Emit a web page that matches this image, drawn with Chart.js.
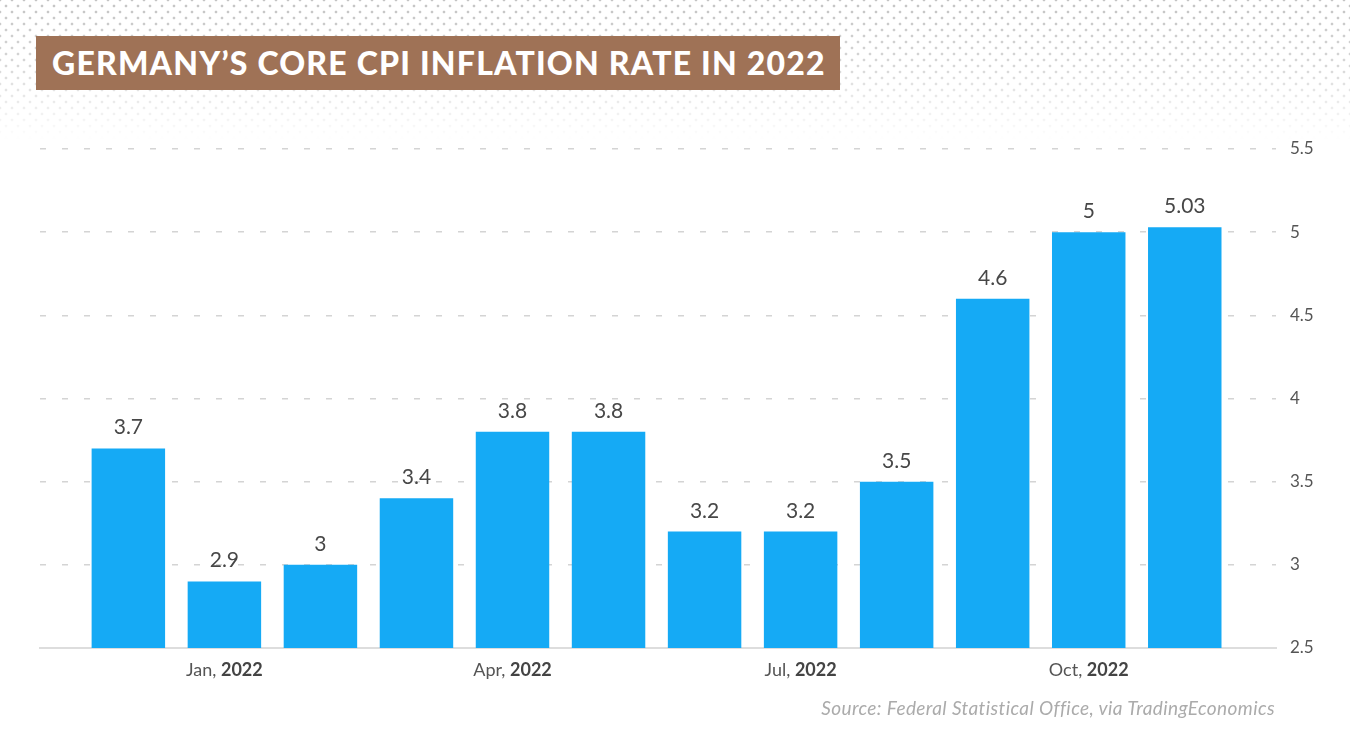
<!DOCTYPE html>
<html><head><meta charset="utf-8">
<script src="https://cdn.jsdelivr.net/npm/chart.js@4.4.0/dist/chart.umd.min.js"></script>
<style>
html,body{margin:0;padding:0;background:#fff;}
body{width:1350px;height:747px;position:relative;overflow:hidden;font-family:Lato,sans-serif;}
#dots{position:absolute;left:0;top:0;width:1350px;height:140px;
 background-image:radial-gradient(circle,#c4c4c4 1.1px,rgba(255,255,255,0) 1.7px),radial-gradient(circle,#c4c4c4 1.1px,rgba(255,255,255,0) 1.7px);
 background-size:12px 12px;background-position:0 0,6px 6px;
 -webkit-mask-image:linear-gradient(to bottom,rgba(0,0,0,1) 0%,rgba(0,0,0,0.7) 45%,rgba(0,0,0,0) 100%);
 mask-image:linear-gradient(to bottom,rgba(0,0,0,1) 0%,rgba(0,0,0,0.7) 45%,rgba(0,0,0,0) 100%);}
#wrap{position:absolute;left:0;top:0;width:1350px;height:747px;}
#title{position:absolute;left:36px;top:36px;width:804px;height:54px;background:#9F7256;color:#fff;
 font-family:Lato,sans-serif;font-weight:900;font-size:32px;letter-spacing:1.2px;line-height:54px;padding-left:16px;box-sizing:border-box;white-space:nowrap;z-index:2;}
#source{position:absolute;right:75px;top:696px;font-family:Lato,sans-serif;font-style:italic;font-size:19px;letter-spacing:0.4px;color:#ababab;z-index:2;}
</style></head>
<body>
<div id="dots"></div>
<div id="wrap"><canvas id="c" width="1350" height="747"></canvas></div>
<div id="title">GERMANY’S CORE CPI INFLATION RATE IN 2022</div>
<div id="source">Source: Federal Statistical Office, via TradingEconomics</div>
<script>
const months = ['Dec 2021','Jan 2022','Feb 2022','Mar 2022','Apr 2022','May 2022','Jun 2022','Jul 2022','Aug 2022','Sep 2022','Oct 2022','Nov 2022'];
const coreCpi = [3.7, 2.9, 3.0, 3.4, 3.8, 3.8, 3.2, 3.2, 3.5, 4.6, 5.0, 5.03];
const valueLabels = ['3.7','2.9','3','3.4','3.8','3.8','3.2','3.2','3.5','4.6','5','5.03'];
const yTicks = [2.5, 3, 3.5, 4, 4.5, 5, 5.5];
const xTickIndex = [1, 4, 7, 10];
const xTickMonth = ['Jan','Apr','Jul','Oct'];
const xTickYear = ['2022','2022','2022','2022'];

const FONT = 'Lato, sans-serif';

const valueLabelPlugin = {
  id: 'valueLabels',
  afterDatasetsDraw(chart) {
    const ctx = chart.ctx;
    const meta = chart.getDatasetMeta(0);
    ctx.save();
    ctx.font = '400 21px ' + FONT;
    ctx.fillStyle = '#474747';
    ctx.textAlign = 'center';
    ctx.textBaseline = 'alphabetic';
    meta.data.forEach((el, i) => {
      ctx.fillText(valueLabels[i], el.x, el.y - 14);
    });
    ctx.restore();
  }
};

const xLabelPlugin = {
  id: 'xLabels',
  afterDraw(chart) {
    const ctx = chart.ctx;
    const xs = chart.scales.x;
    const y = chart.chartArea.bottom + 22;
    ctx.save();
    ctx.textBaseline = 'middle';
    ctx.textAlign = 'left';
    xTickIndex.forEach((idx, k) => {
      const a = xTickMonth[k] + ', ';
      const b = xTickYear[k];
      ctx.font = '400 18px ' + FONT;
      const wa = ctx.measureText(a).width;
      ctx.font = '700 18px ' + FONT;
      const wb = ctx.measureText(b).width;
      const cx = xs.getPixelForValue(idx);
      let x0 = cx - (wa + wb) / 2;
      ctx.font = '400 18px ' + FONT;
      ctx.fillStyle = '#555555';
      ctx.fillText(a, x0, y);
      ctx.font = '700 18px ' + FONT;
      ctx.fillStyle = '#444444';
      ctx.fillText(b, x0 + wa, y);
    });
    ctx.restore();
  }
};

new Chart(document.getElementById('c'), {
  type: 'bar',
  data: {
    labels: months,
    datasets: [{
      label: 'Core CPI',
      data: coreCpi.map((v, i) => ({ x: i, y: v })),
      backgroundColor: '#15AAF5',
      borderWidth: 0,
      barPercentage: 0.765,
      categoryPercentage: 1
    }]
  },
  options: {
    responsive: false,
    animation: false,
    events: [],
    layout: { padding: { left: 40, right: 0, top: 149, bottom: 99 } },
    plugins: { legend: { display: false }, tooltip: { enabled: false }, title: { display: false } },
    scales: {
      x: {
        type: 'linear',
        offset: false,
        min: -0.92,
        max: 11.95,
        afterBuildTicks: s => { s.ticks = xTickIndex.map(v => ({ value: v })); },
        afterFit: s => { s.height = 0; s.paddingLeft = 0; s.paddingRight = 0; },
        ticks: { display: false },
        grid: { display: false, drawTicks: false, offset: false },
        border: { display: true, color: '#dddddd', width: 2 }
      },
      y: {
        position: 'right',
        min: 2.5,
        max: 5.5,
        afterBuildTicks: s => { s.ticks = yTicks.map(v => ({ value: v })); },
        afterFit: s => { s.width = 74; s.paddingTop = 0; s.paddingBottom = 0; },
        ticks: {
          padding: 14,
          color: '#555555',
          font: { family: FONT, size: 17 },
          callback: v => String(v)
        },
        grid: { color: '#d4d4d4', lineWidth: 1.5, drawTicks: false },
        border: { display: false, dash: [6, 16] }
      }
    }
  },
  plugins: [valueLabelPlugin, xLabelPlugin]
});
</script>
</body></html>
